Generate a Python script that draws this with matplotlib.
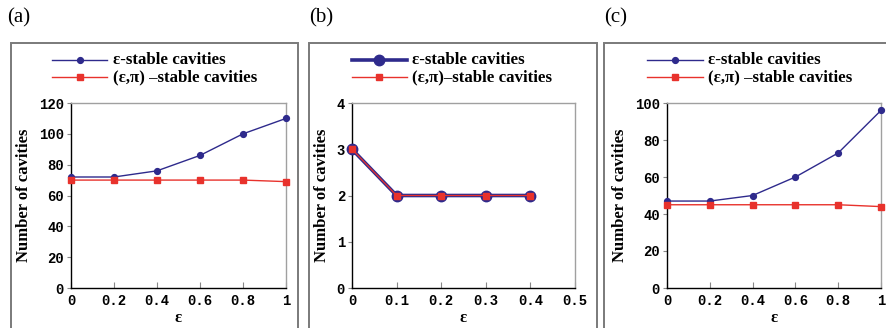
import matplotlib
matplotlib.use("Agg")
import matplotlib.pyplot as plt
from matplotlib.lines import Line2D
from matplotlib.patches import Rectangle

# ---- data ----
x_a = [0, 0.2, 0.4, 0.6, 0.8, 1.0]
eps_a = [72, 72, 76, 86, 100, 110]
epspi_a = [70, 70, 70, 70, 70, 69]

x_b = [0, 0.1, 0.2, 0.3, 0.4]
eps_b = [3, 2, 2, 2, 2]
epspi_b = [3, 2, 2, 2, 2]

x_c = [0, 0.2, 0.4, 0.6, 0.8, 1.0]
eps_c = [47, 47, 50, 60, 73, 96]
epspi_c = [45, 45, 45, 45, 45, 44]

xticks_a = [0, 0.2, 0.4, 0.6, 0.8, 1.0]
xticklabels_a = ["0", "0.2", "0.4", "0.6", "0.8", "1"]
yticks_a = [0, 20, 40, 60, 80, 100, 120]
xticks_b = [0, 0.1, 0.2, 0.3, 0.4, 0.5]
xticklabels_b = ["0", "0.1", "0.2", "0.3", "0.4", "0.5"]
yticks_b = [0, 1, 2, 3, 4]
yticks_c = [0, 20, 40, 60, 80, 100]

label_eps = "ε-stable cavities"
label_epspi_ac = "(ε,π) –stable cavities"
label_epspi_b = "(ε,π)–stable cavities"

BLUE = "#2e2a8c"
RED = "#e8322c"
W, H = 887, 328

fig = plt.figure(figsize=(W / 100, H / 100), dpi=100)

SERIF = ["Liberation Serif", "DejaVu Serif"]
MONO = ["Liberation Mono", "DejaVu Sans Mono"]


def px_axes(left, right, top, bottom):
    return fig.add_axes([left / W, (H - bottom) / H, (right - left) / W, (bottom - top) / H])


def frame(left, right, top):
    fig.patches.append(Rectangle((left / W, -0.2), (right - left) / W, (H - top) / H + 0.2,
                                 transform=fig.transFigure, fill=False,
                                 edgecolor="#7a7a7a", linewidth=1.4, clip_on=False))


def style(ax, xticks, xlabels, yticks):
    ax.set_xticks(xticks)
    ax.set_xticklabels(xlabels)
    ax.set_yticks(yticks)
    ax.set_xlim(xticks[0], xticks[-1])
    ax.set_ylim(yticks[0], yticks[-1])
    for s in ("top", "right"):
        ax.spines[s].set_color("#a0a0a0")
    for s in ("left", "bottom"):
        ax.spines[s].set_color("black")
    for s in ax.spines.values():
        s.set_linewidth(1.0)
    ax.tick_params(axis="x", direction="in", length=4, color="#888888", pad=4)
    ax.tick_params(axis="y", direction="out", length=3, color="#888888", pad=2)
    for lab in ax.get_xticklabels() + ax.get_yticklabels():
        lab.set_family(MONO)
        lab.set_fontweight("bold")
        lab.set_fontsize(10)
    ax.set_ylabel("Number of cavities", family=SERIF, fontweight="bold", fontsize=12, labelpad=5)
    # x label placed in figure pixels so it stays inside the canvas
    pos = ax.get_position()
    fig.text((pos.x0 + pos.x1) / 2, (H - 322) / H, "ε", family=SERIF, fontweight="bold",
             fontsize=12, ha="center", va="baseline")


def legend(x0, x1, xt, h_eps, h_pi, lab_pi):
    for y, h, lab in ((60, h_eps, label_eps), (77, h_pi, lab_pi)):
        fig.add_artist(Line2D([x0 / W, x1 / W], [(H - y) / H] * 2, transform=fig.transFigure,
                              color=h["color"], linewidth=h["lw"], marker="none"))
        fig.add_artist(Line2D([(x0 + x1) / 2 / W], [(H - y) / H], transform=fig.transFigure,
                              color=h["color"], marker=h["marker"], markersize=h["ms"],
                              linestyle="none"))
        fig.text(xt / W, (H - y) / H, lab, family=SERIF, fontweight="bold", fontsize=12.2,
                 va="center", ha="left")


thin_eps = dict(color=BLUE, lw=1.0, marker="o", ms=4.2)
thin_pi = dict(color=RED, lw=1.0, marker="s", ms=4.2)
thick_eps = dict(color=BLUE, lw=2.6, marker="o", ms=7.5)

# ---- outer frames and panel letters ----
frame(11.5, 298, 43)
frame(309, 597, 43)
frame(604.5, 900, 43)
for x, t in ((7, "(a)"), (309, "(b)"), (604, "(c)")):
    fig.text(x / W, (H - 18) / H, t, family=SERIF, fontsize=15, va="center", ha="left")

# ---- panel (a) ----
ax = px_axes(71, 286, 103, 288)
ax.plot(x_a, eps_a, color=BLUE, lw=1.0, marker="o", ms=4.2, clip_on=False, zorder=3)
ax.plot(x_a, epspi_a, color=RED, lw=1.0, marker="s", ms=4.2, clip_on=False, zorder=4)
style(ax, xticks_a, xticklabels_a, yticks_a)
legend(52, 107, 113, thin_eps, thin_pi, label_epspi_ac)

# ---- panel (b) ----
ax = px_axes(352, 575, 103, 288)
ax.plot(x_b, eps_b, color=BLUE, lw=2.6, marker="o", ms=7.5, clip_on=False, zorder=3)
ax.plot(x_b, epspi_b, color=RED, lw=0.9, marker="s", ms=5.0, clip_on=False, zorder=4)
style(ax, xticks_b, xticklabels_b, yticks_b)
legend(352, 407, 412, thick_eps, thin_pi, label_epspi_b)

# ---- panel (c) ----
ax = px_axes(667, 881, 103, 288)
ax.plot(x_c, eps_c, color=BLUE, lw=1.0, marker="o", ms=4.2, clip_on=False, zorder=3)
ax.plot(x_c, epspi_c, color=RED, lw=1.0, marker="s", ms=4.2, clip_on=False, zorder=4)
style(ax, xticks_a, xticklabels_a, yticks_c)
legend(647, 703, 708, thin_eps, thin_pi, label_epspi_ac)

fig.savefig("out.png", dpi=100)
